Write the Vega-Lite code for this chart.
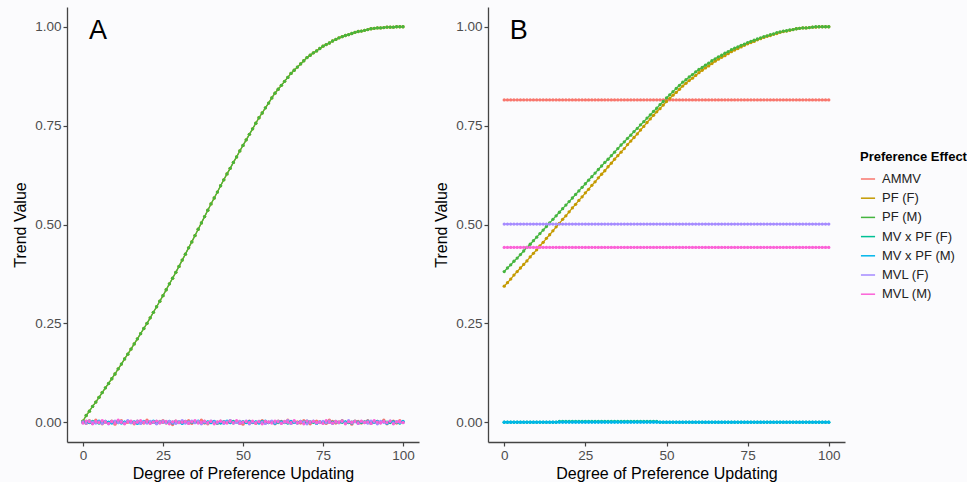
{
"$schema": "https://vega.github.io/schema/vega-lite/v6.json",
"background": "#fbfbfd",
"padding": {"left": 12, "top": 7, "right": 0, "bottom": 0},
"config": {
 "view": {"stroke": null},
 "font": "Liberation Sans",
 "axis": {"grid": false, "domainColor": "#444", "domainWidth": 1.3, "tickColor": "#444", "tickWidth": 1.2, "tickSize": 4, "labelColor": "#4d4d4d", "labelFontSize": 13.5, "labelPadding": 2, "titleFontSize": 16, "titleFontWeight": "normal", "titleColor": "#000", "labelFont": "Liberation Sans", "titleFont": "Liberation Sans"},
 "axisX": {"titlePadding": 4},
 "axisY": {"titlePadding": 6}
},
"spacing": 14,
"resolve": {"scale": {"color": "shared"}, "legend": {"color": "shared"}},
"datasets": {
"A": [
{"x":0,"a":0.002,"f":0.003,"m":0.003,"vf":0,"vm":-0.001,"lf":0.001,"lm":-0.002},
{"x":1,"a":-0.003,"f":0.017,"m":0.017,"vf":0.001,"vm":0.002,"lf":-0.002,"lm":0.003},
{"x":2,"a":0.004,"f":0.028,"m":0.028,"vf":-0.001,"vm":0,"lf":0.003,"lm":0.001},
{"x":3,"a":-0.001,"f":0.040,"m":0.040,"vf":0.002,"vm":-0.003,"lf":0,"lm":-0.004},
{"x":4,"a":0.005,"f":0.051,"m":0.051,"vf":0,"vm":0.001,"lf":-0.002,"lm":0.002},
{"x":5,"a":0,"f":0.063,"m":0.063,"vf":-0.002,"vm":0.003,"lf":0.001,"lm":-0.001},
{"x":6,"a":-0.004,"f":0.075,"m":0.075,"vf":0.001,"vm":-0.001,"lf":-0.003,"lm":0.004},
{"x":7,"a":0.002,"f":0.087,"m":0.087,"vf":0,"vm":0.002,"lf":0.002,"lm":0},
{"x":8,"a":-0.002,"f":0.098,"m":0.098,"vf":-0.001,"vm":0,"lf":-0.004,"lm":-0.003},
{"x":9,"a":0.003,"f":0.110,"m":0.110,"vf":0.002,"vm":-0.002,"lf":0.001,"lm":0.002},
{"x":10,"a":-0.005,"f":0.122,"m":0.122,"vf":0,"vm":0.001,"lf":0.003,"lm":-0.002},
{"x":11,"a":0.001,"f":0.135,"m":0.135,"vf":-0.001,"vm":0.003,"lf":-0.001,"lm":0.005},
{"x":12,"a":0.004,"f":0.147,"m":0.147,"vf":0.001,"vm":-0.002,"lf":0.002,"lm":0},
{"x":13,"a":-0.003,"f":0.160,"m":0.160,"vf":0,"vm":0,"lf":-0.002,"lm":-0.004},
{"x":14,"a":0,"f":0.172,"m":0.172,"vf":0.002,"vm":0.002,"lf":0.004,"lm":0.001},
{"x":15,"a":0.002,"f":0.185,"m":0.185,"vf":-0.001,"vm":-0.001,"lf":-0.001,"lm":0.003},
{"x":16,"a":-0.004,"f":0.198,"m":0.198,"vf":0,"vm":0.001,"lf":0,"lm":-0.002},
{"x":17,"a":0.003,"f":0.211,"m":0.211,"vf":0.001,"vm":-0.003,"lf":0.003,"lm":0},
{"x":18,"a":0.001,"f":0.224,"m":0.224,"vf":-0.002,"vm":0,"lf":-0.003,"lm":0.004},
{"x":19,"a":-0.002,"f":0.237,"m":0.237,"vf":0,"vm":0.002,"lf":0.001,"lm":-0.001},
{"x":20,"a":0.005,"f":0.250,"m":0.250,"vf":0.001,"vm":-0.001,"lf":-0.002,"lm":0.002},
{"x":21,"a":-0.001,"f":0.264,"m":0.264,"vf":-0.001,"vm":0.001,"lf":0.002,"lm":-0.003},
{"x":22,"a":0,"f":0.278,"m":0.278,"vf":0,"vm":0.003,"lf":0,"lm":0.001},
{"x":23,"a":-0.003,"f":0.292,"m":0.292,"vf":0.002,"vm":-0.002,"lf":-0.004,"lm":0.003},
{"x":24,"a":0.002,"f":0.306,"m":0.306,"vf":-0.001,"vm":0,"lf":0.001,"lm":-0.002},
{"x":25,"a":0.004,"f":0.320,"m":0.320,"vf":0,"vm":0.001,"lf":0.003,"lm":0},
{"x":26,"a":-0.002,"f":0.335,"m":0.335,"vf":0.001,"vm":-0.001,"lf":-0.001,"lm":0.002},
{"x":27,"a":0.001,"f":0.350,"m":0.350,"vf":-0.001,"vm":0.002,"lf":0.002,"lm":-0.004},
{"x":28,"a":-0.006,"f":0.364,"m":0.364,"vf":0,"vm":-0.002,"lf":0,"lm":0.001},
{"x":29,"a":0.003,"f":0.379,"m":0.379,"vf":0.002,"vm":0,"lf":-0.003,"lm":0.003},
{"x":30,"a":0,"f":0.394,"m":0.394,"vf":-0.001,"vm":0.001,"lf":0.001,"lm":-0.001},
{"x":31,"a":0.002,"f":0.410,"m":0.410,"vf":0,"vm":-0.003,"lf":0.004,"lm":0},
{"x":32,"a":-0.001,"f":0.425,"m":0.425,"vf":0.001,"vm":0.002,"lf":-0.002,"lm":0.002},
{"x":33,"a":0.004,"f":0.441,"m":0.441,"vf":-0.002,"vm":0,"lf":0,"lm":-0.003},
{"x":34,"a":-0.003,"f":0.456,"m":0.456,"vf":0,"vm":0.001,"lf":0.003,"lm":0.001},
{"x":35,"a":0.001,"f":0.472,"m":0.472,"vf":0.001,"vm":-0.001,"lf":-0.001,"lm":0.004},
{"x":36,"a":0,"f":0.488,"m":0.488,"vf":0,"vm":0.003,"lf":0.002,"lm":-0.002},
{"x":37,"a":0.005,"f":0.504,"m":0.504,"vf":-0.001,"vm":-0.002,"lf":-0.004,"lm":0},
{"x":38,"a":-0.002,"f":0.520,"m":0.520,"vf":0.002,"vm":0,"lf":0.001,"lm":0.003},
{"x":39,"a":-0.004,"f":0.536,"m":0.536,"vf":0,"vm":0.001,"lf":-0.002,"lm":-0.001},
{"x":40,"a":0.002,"f":0.552,"m":0.552,"vf":-0.001,"vm":-0.001,"lf":0.003,"lm":0.002},
{"x":41,"a":0.001,"f":0.567,"m":0.567,"vf":0.001,"vm":0.002,"lf":0,"lm":-0.004},
{"x":42,"a":-0.003,"f":0.582,"m":0.582,"vf":0,"vm":-0.002,"lf":-0.001,"lm":0.001},
{"x":43,"a":0.003,"f":0.598,"m":0.598,"vf":-0.002,"vm":0,"lf":0.002,"lm":0.003},
{"x":44,"a":0,"f":0.613,"m":0.613,"vf":0.001,"vm":0.001,"lf":-0.003,"lm":0},
{"x":45,"a":-0.001,"f":0.628,"m":0.628,"vf":0,"vm":0.003,"lf":0.001,"lm":-0.002},
{"x":46,"a":0.004,"f":0.642,"m":0.642,"vf":-0.001,"vm":-0.001,"lf":0.004,"lm":0.002},
{"x":47,"a":-0.002,"f":0.657,"m":0.657,"vf":0.002,"vm":0,"lf":-0.002,"lm":-0.001},
{"x":48,"a":0.001,"f":0.671,"m":0.671,"vf":0,"vm":0.002,"lf":0,"lm":0.004},
{"x":49,"a":0.002,"f":0.686,"m":0.686,"vf":-0.001,"vm":-0.003,"lf":0.002,"lm":-0.003},
{"x":50,"a":-0.005,"f":0.700,"m":0.700,"vf":0.001,"vm":0.001,"lf":-0.001,"lm":0},
{"x":51,"a":0,"f":0.714,"m":0.714,"vf":0,"vm":-0.001,"lf":0.003,"lm":0.002},
{"x":52,"a":0.003,"f":0.728,"m":0.728,"vf":-0.002,"vm":0.002,"lf":-0.004,"lm":-0.001},
{"x":53,"a":-0.001,"f":0.742,"m":0.742,"vf":0.001,"vm":0,"lf":0.001,"lm":0.003},
{"x":54,"a":-0.003,"f":0.756,"m":0.756,"vf":0,"vm":0.001,"lf":-0.001,"lm":-0.002},
{"x":55,"a":0.002,"f":0.770,"m":0.770,"vf":-0.001,"vm":-0.002,"lf":0.002,"lm":0.001},
{"x":56,"a":0.004,"f":0.782,"m":0.782,"vf":0.002,"vm":0,"lf":0,"lm":-0.004},
{"x":57,"a":-0.002,"f":0.795,"m":0.795,"vf":0,"vm":0.003,"lf":-0.003,"lm":0.002},
{"x":58,"a":0,"f":0.807,"m":0.807,"vf":-0.001,"vm":-0.001,"lf":0.001,"lm":0},
{"x":59,"a":0.001,"f":0.820,"m":0.820,"vf":0.001,"vm":0.001,"lf":0.003,"lm":-0.002},
{"x":60,"a":-0.004,"f":0.832,"m":0.832,"vf":0,"vm":-0.003,"lf":-0.001,"lm":0.003},
{"x":61,"a":0.003,"f":0.842,"m":0.842,"vf":-0.001,"vm":0.002,"lf":0.002,"lm":0.001},
{"x":62,"a":0.002,"f":0.852,"m":0.852,"vf":0.001,"vm":0,"lf":-0.002,"lm":-0.003},
{"x":63,"a":-0.001,"f":0.862,"m":0.862,"vf":0,"vm":0.001,"lf":0,"lm":0.002},
{"x":64,"a":0.005,"f":0.872,"m":0.872,"vf":-0.002,"vm":-0.001,"lf":0.004,"lm":0},
{"x":65,"a":-0.003,"f":0.882,"m":0.882,"vf":0.001,"vm":0.002,"lf":-0.003,"lm":-0.001},
{"x":66,"a":0,"f":0.890,"m":0.890,"vf":0,"vm":0,"lf":0.001,"lm":0.004},
{"x":67,"a":0.001,"f":0.898,"m":0.898,"vf":-0.001,"vm":-0.002,"lf":-0.001,"lm":-0.002},
{"x":68,"a":-0.002,"f":0.906,"m":0.906,"vf":0.002,"vm":0.001,"lf":0.002,"lm":0.001},
{"x":69,"a":0.004,"f":0.914,"m":0.914,"vf":0,"vm":-0.001,"lf":0,"lm":-0.004},
{"x":70,"a":0.002,"f":0.922,"m":0.922,"vf":-0.001,"vm":0.003,"lf":-0.004,"lm":0.003},
{"x":71,"a":-0.004,"f":0.928,"m":0.928,"vf":0.001,"vm":0,"lf":0.001,"lm":0},
{"x":72,"a":0.001,"f":0.934,"m":0.934,"vf":0,"vm":0.002,"lf":0.003,"lm":0.002},
{"x":73,"a":0.003,"f":0.939,"m":0.939,"vf":-0.002,"vm":-0.003,"lf":-0.002,"lm":-0.001},
{"x":74,"a":-0.001,"f":0.945,"m":0.945,"vf":0.001,"vm":0.001,"lf":0,"lm":0.001},
{"x":75,"a":0,"f":0.951,"m":0.951,"vf":0,"vm":-0.001,"lf":0.002,"lm":-0.003},
{"x":76,"a":-0.003,"f":0.955,"m":0.955,"vf":-0.001,"vm":0.002,"lf":-0.001,"lm":0.004},
{"x":77,"a":0.005,"f":0.959,"m":0.959,"vf":0.001,"vm":0,"lf":0.003,"lm":0},
{"x":78,"a":0.002,"f":0.964,"m":0.964,"vf":0,"vm":-0.002,"lf":-0.003,"lm":-0.002},
{"x":79,"a":-0.002,"f":0.968,"m":0.968,"vf":0.002,"vm":0.001,"lf":0.001,"lm":0.002},
{"x":80,"a":0.001,"f":0.972,"m":0.972,"vf":-0.001,"vm":-0.001,"lf":0,"lm":-0.001},
{"x":81,"a":0.004,"f":0.975,"m":0.975,"vf":0,"vm":0.003,"lf":0.002,"lm":0.003},
{"x":82,"a":-0.001,"f":0.978,"m":0.978,"vf":0.001,"vm":0,"lf":-0.002,"lm":-0.004},
{"x":83,"a":0,"f":0.980,"m":0.980,"vf":-0.001,"vm":0.001,"lf":0.004,"lm":0.001},
{"x":84,"a":-0.005,"f":0.983,"m":0.983,"vf":0,"vm":-0.002,"lf":-0.001,"lm":0},
{"x":85,"a":0.003,"f":0.986,"m":0.986,"vf":0.002,"vm":0.002,"lf":0.001,"lm":0.002},
{"x":86,"a":0.002,"f":0.988,"m":0.988,"vf":-0.002,"vm":0,"lf":-0.003,"lm":-0.002},
{"x":87,"a":-0.002,"f":0.989,"m":0.989,"vf":0,"vm":0.001,"lf":0.002,"lm":0.003},
{"x":88,"a":0.001,"f":0.991,"m":0.991,"vf":0.001,"vm":-0.001,"lf":0,"lm":-0.001},
{"x":89,"a":0.004,"f":0.993,"m":0.993,"vf":-0.001,"vm":0.003,"lf":-0.002,"lm":0.001},
{"x":90,"a":-0.003,"f":0.995,"m":0.995,"vf":0,"vm":-0.002,"lf":0.003,"lm":-0.003},
{"x":91,"a":0,"f":0.996,"m":0.996,"vf":0.001,"vm":0,"lf":0.001,"lm":0.004},
{"x":92,"a":0.002,"f":0.997,"m":0.997,"vf":-0.001,"vm":0.002,"lf":-0.004,"lm":0},
{"x":93,"a":-0.001,"f":0.997,"m":0.997,"vf":0,"vm":-0.001,"lf":0.002,"lm":-0.002},
{"x":94,"a":0.005,"f":0.998,"m":0.998,"vf":0.002,"vm":0.001,"lf":0,"lm":0.002},
{"x":95,"a":-0.004,"f":0.999,"m":0.999,"vf":0,"vm":-0.003,"lf":-0.001,"lm":-0.001},
{"x":96,"a":0.001,"f":0.999,"m":0.999,"vf":-0.001,"vm":0.002,"lf":0.003,"lm":0.003},
{"x":97,"a":0.003,"f":0.999,"m":0.999,"vf":0.001,"vm":0,"lf":-0.002,"lm":-0.004},
{"x":98,"a":-0.002,"f":1.000,"m":1.000,"vf":0,"vm":0.001,"lf":0.001,"lm":0.001},
{"x":99,"a":0.004,"f":1.000,"m":1.000,"vf":-0.002,"vm":-0.001,"lf":0,"lm":0.002},
{"x":100,"a":0,"f":1.000,"m":1.000,"vf":0.001,"vm":0.002,"lf":-0.001,"lm":-0.001}
],
"B": [
{"x":0,"a":0.815,"f":0.344,"m":0.381,"vf":0,"vm":0,"lf":0.501,"lm":0.442},
{"x":1,"a":0.815,"f":0.353,"m":0.390,"vf":0,"vm":0,"lf":0.501,"lm":0.442},
{"x":2,"a":0.815,"f":0.362,"m":0.398,"vf":0,"vm":0,"lf":0.501,"lm":0.442},
{"x":3,"a":0.815,"f":0.372,"m":0.407,"vf":0,"vm":0,"lf":0.501,"lm":0.442},
{"x":4,"a":0.815,"f":0.381,"m":0.415,"vf":0,"vm":0,"lf":0.501,"lm":0.442},
{"x":5,"a":0.815,"f":0.390,"m":0.424,"vf":0,"vm":0,"lf":0.501,"lm":0.442},
{"x":6,"a":0.815,"f":0.399,"m":0.433,"vf":0,"vm":0,"lf":0.501,"lm":0.442},
{"x":7,"a":0.815,"f":0.408,"m":0.442,"vf":0,"vm":0,"lf":0.501,"lm":0.442},
{"x":8,"a":0.815,"f":0.418,"m":0.450,"vf":0,"vm":0,"lf":0.501,"lm":0.442},
{"x":9,"a":0.815,"f":0.427,"m":0.459,"vf":0,"vm":0,"lf":0.501,"lm":0.442},
{"x":10,"a":0.815,"f":0.436,"m":0.468,"vf":0,"vm":0,"lf":0.501,"lm":0.442},
{"x":11,"a":0.815,"f":0.446,"m":0.477,"vf":0,"vm":0,"lf":0.501,"lm":0.442},
{"x":12,"a":0.815,"f":0.455,"m":0.486,"vf":0,"vm":0,"lf":0.501,"lm":0.442},
{"x":13,"a":0.815,"f":0.465,"m":0.495,"vf":0,"vm":0,"lf":0.501,"lm":0.442},
{"x":14,"a":0.815,"f":0.474,"m":0.504,"vf":0,"vm":0,"lf":0.501,"lm":0.442},
{"x":15,"a":0.815,"f":0.484,"m":0.513,"vf":0,"vm":0,"lf":0.501,"lm":0.442},
{"x":16,"a":0.815,"f":0.494,"m":0.522,"vf":0,"vm":0,"lf":0.501,"lm":0.442},
{"x":17,"a":0.815,"f":0.503,"m":0.531,"vf":0.002,"vm":0,"lf":0.501,"lm":0.442},
{"x":18,"a":0.815,"f":0.513,"m":0.540,"vf":0.002,"vm":0,"lf":0.501,"lm":0.442},
{"x":19,"a":0.815,"f":0.522,"m":0.549,"vf":0.002,"vm":0,"lf":0.501,"lm":0.442},
{"x":20,"a":0.815,"f":0.532,"m":0.558,"vf":0.002,"vm":0,"lf":0.501,"lm":0.442},
{"x":21,"a":0.815,"f":0.542,"m":0.567,"vf":0.002,"vm":0,"lf":0.501,"lm":0.442},
{"x":22,"a":0.815,"f":0.551,"m":0.576,"vf":0.002,"vm":0,"lf":0.501,"lm":0.442},
{"x":23,"a":0.815,"f":0.561,"m":0.585,"vf":0.002,"vm":0,"lf":0.501,"lm":0.442},
{"x":24,"a":0.815,"f":0.570,"m":0.594,"vf":0.002,"vm":0,"lf":0.501,"lm":0.442},
{"x":25,"a":0.815,"f":0.580,"m":0.603,"vf":0.002,"vm":0,"lf":0.501,"lm":0.442},
{"x":26,"a":0.815,"f":0.589,"m":0.612,"vf":0.002,"vm":0,"lf":0.501,"lm":0.442},
{"x":27,"a":0.815,"f":0.599,"m":0.621,"vf":0.002,"vm":0,"lf":0.501,"lm":0.442},
{"x":28,"a":0.815,"f":0.608,"m":0.630,"vf":0.002,"vm":0,"lf":0.501,"lm":0.442},
{"x":29,"a":0.815,"f":0.618,"m":0.639,"vf":0.002,"vm":0,"lf":0.501,"lm":0.442},
{"x":30,"a":0.815,"f":0.627,"m":0.648,"vf":0.002,"vm":0,"lf":0.501,"lm":0.442},
{"x":31,"a":0.815,"f":0.636,"m":0.657,"vf":0.002,"vm":0,"lf":0.501,"lm":0.442},
{"x":32,"a":0.815,"f":0.646,"m":0.665,"vf":0.002,"vm":0,"lf":0.501,"lm":0.442},
{"x":33,"a":0.815,"f":0.655,"m":0.674,"vf":0.002,"vm":0,"lf":0.501,"lm":0.442},
{"x":34,"a":0.815,"f":0.665,"m":0.683,"vf":0.002,"vm":0,"lf":0.501,"lm":0.442},
{"x":35,"a":0.815,"f":0.674,"m":0.692,"vf":0.002,"vm":0,"lf":0.501,"lm":0.442},
{"x":36,"a":0.815,"f":0.683,"m":0.701,"vf":0.002,"vm":0,"lf":0.501,"lm":0.442},
{"x":37,"a":0.815,"f":0.692,"m":0.709,"vf":0.002,"vm":0,"lf":0.501,"lm":0.442},
{"x":38,"a":0.815,"f":0.702,"m":0.718,"vf":0.002,"vm":0,"lf":0.501,"lm":0.442},
{"x":39,"a":0.815,"f":0.711,"m":0.726,"vf":0.002,"vm":0,"lf":0.501,"lm":0.442},
{"x":40,"a":0.815,"f":0.720,"m":0.735,"vf":0.002,"vm":0,"lf":0.501,"lm":0.442},
{"x":41,"a":0.815,"f":0.729,"m":0.743,"vf":0.002,"vm":0,"lf":0.501,"lm":0.442},
{"x":42,"a":0.815,"f":0.739,"m":0.752,"vf":0.002,"vm":0,"lf":0.501,"lm":0.442},
{"x":43,"a":0.815,"f":0.748,"m":0.760,"vf":0.002,"vm":0,"lf":0.501,"lm":0.442},
{"x":44,"a":0.815,"f":0.758,"m":0.769,"vf":0.002,"vm":0,"lf":0.501,"lm":0.442},
{"x":45,"a":0.815,"f":0.767,"m":0.777,"vf":0.002,"vm":0,"lf":0.501,"lm":0.442},
{"x":46,"a":0.815,"f":0.776,"m":0.786,"vf":0.002,"vm":0,"lf":0.501,"lm":0.442},
{"x":47,"a":0.815,"f":0.785,"m":0.794,"vf":0.002,"vm":0,"lf":0.501,"lm":0.442},
{"x":48,"a":0.815,"f":0.793,"m":0.803,"vf":0,"vm":0,"lf":0.501,"lm":0.442},
{"x":49,"a":0.815,"f":0.802,"m":0.811,"vf":0,"vm":0,"lf":0.501,"lm":0.442},
{"x":50,"a":0.815,"f":0.811,"m":0.820,"vf":0,"vm":0,"lf":0.501,"lm":0.442},
{"x":51,"a":0.815,"f":0.819,"m":0.828,"vf":0,"vm":0,"lf":0.501,"lm":0.442},
{"x":52,"a":0.815,"f":0.827,"m":0.836,"vf":0,"vm":0,"lf":0.501,"lm":0.442},
{"x":53,"a":0.815,"f":0.834,"m":0.844,"vf":0,"vm":0,"lf":0.501,"lm":0.442},
{"x":54,"a":0.815,"f":0.842,"m":0.852,"vf":0,"vm":0,"lf":0.501,"lm":0.442},
{"x":55,"a":0.815,"f":0.850,"m":0.860,"vf":0,"vm":0,"lf":0.501,"lm":0.442},
{"x":56,"a":0.815,"f":0.857,"m":0.866,"vf":0,"vm":0,"lf":0.501,"lm":0.442},
{"x":57,"a":0.815,"f":0.864,"m":0.873,"vf":0,"vm":0,"lf":0.501,"lm":0.442},
{"x":58,"a":0.815,"f":0.870,"m":0.879,"vf":0,"vm":0,"lf":0.501,"lm":0.442},
{"x":59,"a":0.815,"f":0.877,"m":0.886,"vf":0,"vm":0,"lf":0.501,"lm":0.442},
{"x":60,"a":0.815,"f":0.884,"m":0.892,"vf":0,"vm":0,"lf":0.501,"lm":0.442},
{"x":61,"a":0.815,"f":0.890,"m":0.897,"vf":0,"vm":0,"lf":0.501,"lm":0.442},
{"x":62,"a":0.815,"f":0.896,"m":0.903,"vf":0,"vm":0,"lf":0.501,"lm":0.442},
{"x":63,"a":0.815,"f":0.901,"m":0.908,"vf":0,"vm":0,"lf":0.501,"lm":0.442},
{"x":64,"a":0.815,"f":0.907,"m":0.914,"vf":0,"vm":0,"lf":0.501,"lm":0.442},
{"x":65,"a":0.815,"f":0.913,"m":0.919,"vf":0,"vm":0,"lf":0.501,"lm":0.442},
{"x":66,"a":0.815,"f":0.918,"m":0.924,"vf":0,"vm":0,"lf":0.501,"lm":0.442},
{"x":67,"a":0.815,"f":0.923,"m":0.928,"vf":0,"vm":0,"lf":0.501,"lm":0.442},
{"x":68,"a":0.815,"f":0.927,"m":0.933,"vf":0,"vm":0,"lf":0.501,"lm":0.442},
{"x":69,"a":0.815,"f":0.932,"m":0.937,"vf":0,"vm":0,"lf":0.501,"lm":0.442},
{"x":70,"a":0.815,"f":0.937,"m":0.942,"vf":0,"vm":0,"lf":0.501,"lm":0.442},
{"x":71,"a":0.815,"f":0.941,"m":0.946,"vf":0,"vm":0,"lf":0.501,"lm":0.442},
{"x":72,"a":0.815,"f":0.945,"m":0.949,"vf":0,"vm":0,"lf":0.501,"lm":0.442},
{"x":73,"a":0.815,"f":0.949,"m":0.953,"vf":0,"vm":0,"lf":0.501,"lm":0.442},
{"x":74,"a":0.815,"f":0.953,"m":0.956,"vf":0,"vm":0,"lf":0.501,"lm":0.442},
{"x":75,"a":0.815,"f":0.957,"m":0.960,"vf":0,"vm":0,"lf":0.501,"lm":0.442},
{"x":76,"a":0.815,"f":0.960,"m":0.963,"vf":0,"vm":0,"lf":0.501,"lm":0.442},
{"x":77,"a":0.815,"f":0.963,"m":0.966,"vf":0,"vm":0,"lf":0.501,"lm":0.442},
{"x":78,"a":0.815,"f":0.967,"m":0.969,"vf":0,"vm":0,"lf":0.501,"lm":0.442},
{"x":79,"a":0.815,"f":0.970,"m":0.972,"vf":0,"vm":0,"lf":0.501,"lm":0.442},
{"x":80,"a":0.815,"f":0.973,"m":0.975,"vf":0,"vm":0,"lf":0.501,"lm":0.442},
{"x":81,"a":0.815,"f":0.976,"m":0.977,"vf":0,"vm":0,"lf":0.501,"lm":0.442},
{"x":82,"a":0.815,"f":0.978,"m":0.980,"vf":0,"vm":0,"lf":0.501,"lm":0.442},
{"x":83,"a":0.815,"f":0.981,"m":0.982,"vf":0,"vm":0,"lf":0.501,"lm":0.442},
{"x":84,"a":0.815,"f":0.983,"m":0.985,"vf":0,"vm":0,"lf":0.501,"lm":0.442},
{"x":85,"a":0.815,"f":0.986,"m":0.987,"vf":0,"vm":0,"lf":0.501,"lm":0.442},
{"x":86,"a":0.815,"f":0.988,"m":0.989,"vf":0,"vm":0,"lf":0.501,"lm":0.442},
{"x":87,"a":0.815,"f":0.989,"m":0.990,"vf":0,"vm":0,"lf":0.501,"lm":0.442},
{"x":88,"a":0.815,"f":0.991,"m":0.992,"vf":0,"vm":0,"lf":0.501,"lm":0.442},
{"x":89,"a":0.815,"f":0.993,"m":0.993,"vf":0,"vm":0,"lf":0.501,"lm":0.442},
{"x":90,"a":0.815,"f":0.995,"m":0.995,"vf":0,"vm":0,"lf":0.501,"lm":0.442},
{"x":91,"a":0.815,"f":0.996,"m":0.996,"vf":0,"vm":0,"lf":0.501,"lm":0.442},
{"x":92,"a":0.815,"f":0.997,"m":0.997,"vf":0,"vm":0,"lf":0.501,"lm":0.442},
{"x":93,"a":0.815,"f":0.997,"m":0.997,"vf":0,"vm":0,"lf":0.501,"lm":0.442},
{"x":94,"a":0.815,"f":0.998,"m":0.998,"vf":0,"vm":0,"lf":0.501,"lm":0.442},
{"x":95,"a":0.815,"f":0.999,"m":0.999,"vf":0,"vm":0,"lf":0.501,"lm":0.442},
{"x":96,"a":0.815,"f":0.999,"m":1.000,"vf":0,"vm":0,"lf":0.501,"lm":0.442},
{"x":97,"a":0.815,"f":1.000,"m":1.000,"vf":0,"vm":0,"lf":0.501,"lm":0.442},
{"x":98,"a":0.815,"f":1.000,"m":1.000,"vf":0,"vm":0,"lf":0.501,"lm":0.442},
{"x":99,"a":0.815,"f":1.000,"m":1.000,"vf":0,"vm":0,"lf":0.501,"lm":0.442},
{"x":100,"a":0.815,"f":1.000,"m":1.000,"vf":0,"vm":0,"lf":0.501,"lm":0.442}
]
},
"hconcat": [
{
 "width": 352, "height": 435,
 "layer": [
  {
   "data": {"name": "A"},
   "transform": [{"fold": ["a","f","m","vf","vm","lf","lm"], "as": ["s","y"]}],
   "mark": {"type": "line", "strokeWidth": 1.3, "point": {"filled": true, "size": 11}},
   "encoding": {
    "x": {"field": "x", "type": "quantitative", "scale": {"domain": [-5,105], "nice": false, "zero": false}, "axis": {"values": [0,25,50,75,100], "title": "Degree of Preference Updating"}},
    "y": {"field": "y", "type": "quantitative", "scale": {"domain": [-0.05,1.05], "nice": false, "zero": false}, "axis": {"values": [0,0.25,0.5,0.75,1], "format": ".2f", "title": "Trend Value"}},
    "color": {"field": "s", "type": "nominal",
     "scale": {"domain": ["a","f","m","vf","vm","lf","lm"], "range": ["#F8766D","#C49A00","#45B53F","#00C094","#00B6EB","#A58AFF","#FB61D7"]},
     "legend": {"title": "Preference Effect", "orient": "none", "legendX": 793, "legendY": 144, "titleFontSize": 13, "titleFontWeight": "bold", "titleColor": "#000", "titlePadding": 7, "labelFontSize": 13, "labelColor": "#222", "labelOffset": 6, "symbolType": "stroke", "symbolStrokeWidth": 1.5, "symbolSize": 200, "rowPadding": 4.2,
      "labelExpr": "{'a':'AMMV','f':'PF (F)','m':'PF (M)','vf':'MV x PF (F)','vm':'MV x PF (M)','lf':'MVL (F)','lm':'MVL (M)'}[datum.value]"}}
   }
  },
  {
   "data": {"values": [{"x": 1.9, "y": 0.970, "label": "A"}]},
   "mark": {"type": "text", "align": "left", "baseline": "alphabetic", "fontSize": 27, "font": "Liberation Sans", "color": "#000"},
   "encoding": {"x": {"field": "x", "type": "quantitative"}, "y": {"field": "y", "type": "quantitative"}, "text": {"field": "label"}}
  }
 ]
},
{
 "width": 357, "height": 435,
 "layer": [
  {
   "data": {"name": "B"},
   "transform": [{"fold": ["a","f","m","vf","vm","lf","lm"], "as": ["s","y"]}],
   "mark": {"type": "line", "strokeWidth": 1.3, "point": {"filled": true, "size": 11}},
   "encoding": {
    "x": {"field": "x", "type": "quantitative", "scale": {"domain": [-5,105], "nice": false, "zero": false}, "axis": {"values": [0,25,50,75,100], "title": "Degree of Preference Updating"}},
    "y": {"field": "y", "type": "quantitative", "scale": {"domain": [-0.05,1.05], "nice": false, "zero": false}, "axis": {"values": [0,0.25,0.5,0.75,1], "format": ".2f", "title": "Trend Value"}},
    "color": {"field": "s", "type": "nominal",
     "scale": {"domain": ["a","f","m","vf","vm","lf","lm"], "range": ["#F8766D","#C49A00","#45B53F","#00C094","#00B6EB","#A58AFF","#FB61D7"]}}
   }
  },
  {
   "data": {"values": [{"x": 1.7, "y": 0.970, "label": "B"}]},
   "mark": {"type": "text", "align": "left", "baseline": "alphabetic", "fontSize": 27, "font": "Liberation Sans", "color": "#000"},
   "encoding": {"x": {"field": "x", "type": "quantitative"}, "y": {"field": "y", "type": "quantitative"}, "text": {"field": "label"}}
  }
 ]
}
]
}
